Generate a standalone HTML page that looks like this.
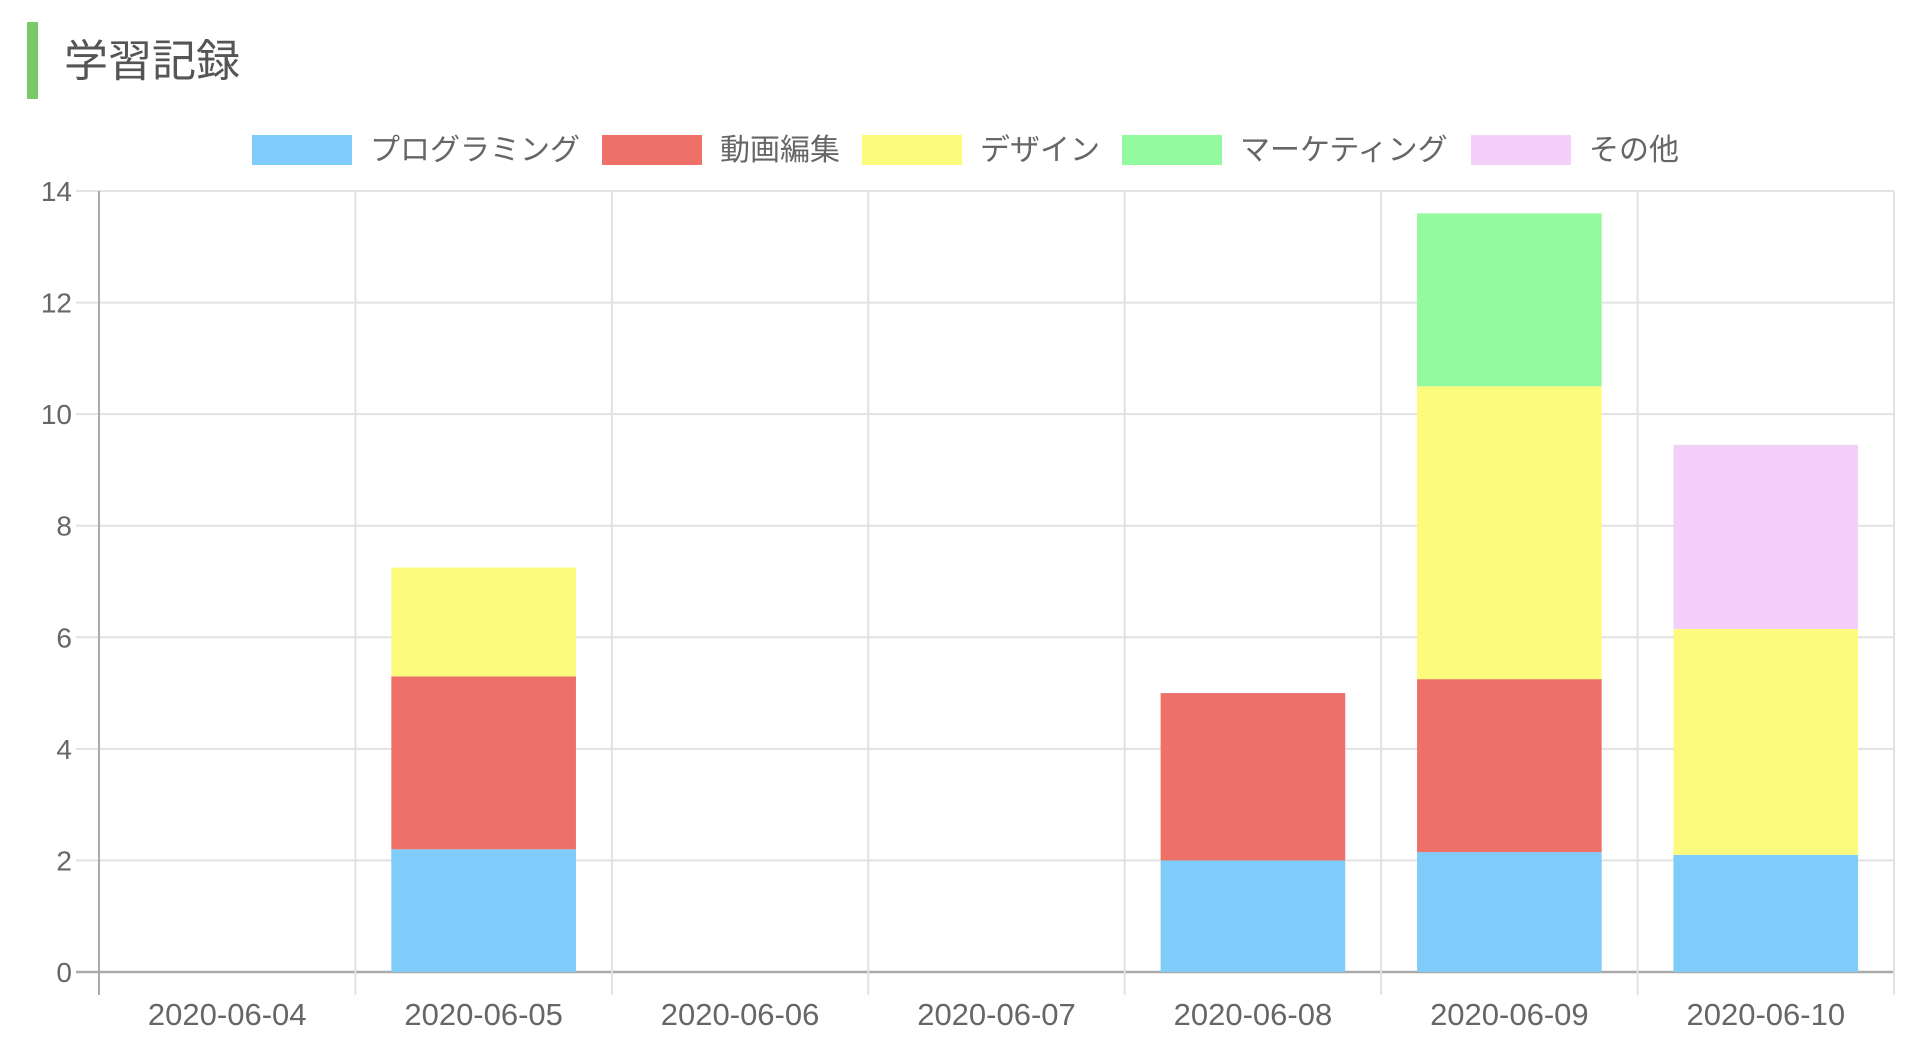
<!DOCTYPE html>
<html><head><meta charset="utf-8"><style>
body{margin:0;background:#fff;width:1926px;height:1058px;overflow:hidden;font-family:"Liberation Sans","Noto Sans CJK JP",sans-serif;}
#title-bar{position:absolute;left:27px;top:22px;width:11px;height:77px;background:#7ac86a;}
#title{position:absolute;left:64px;top:34px;font-size:44px;color:#555;line-height:56px;}
svg{position:absolute;left:0;top:0;}
</style></head><body>
<div id="title-bar"></div>
<div id="title">学習記録</div>
<svg id="chart" width="1926" height="1058"></svg>
<script>
const categories=["2020-06-04","2020-06-05","2020-06-06","2020-06-07","2020-06-08","2020-06-09","2020-06-10"];
const seriesNames=["プログラミング","動画編集","デザイン","マーケティング","その他"];
const programming=[0,2.2,0,0,2,2.15,2.1];
const videoEditing=[0,3.1,0,0,3,3.1,0];
const design=[0,1.95,0,0,0,5.25,4.05];
const marketing=[0,0,0,0,0,3.1,0];
const other=[0,0,0,0,0,0,3.3];
const yTicks=[0,2,4,6,8,10,12,14];
const series=[programming,videoEditing,design,marketing,other];
const colors=["#7fcbf9","#ed7169","#fdfb7d","#93fa9f","#f4cffa"];
const NS="http://www.w3.org/2000/svg";
const svg=document.getElementById('chart');
const L=99,R=1894,T=191,B=972,yMax=14;
const cw=(R-L)/categories.length;
const y=v=>B-(v/yMax)*(B-T);
const xc=i=>L+cw*(i+0.5);
function mk(tag,at){const e=document.createElementNS(NS,tag);for(const k in at)e.setAttribute(k,at[k]);svg.appendChild(e);return e;}
yTicks.forEach(t=>{
  const g=mk('line',{x1:76,x2:R,y1:y(t),y2:y(t),stroke:t===0?'#aaa':'#e2e2e2','stroke-width':t===0?2.5:2});
  
  
  const tx=mk('text',{x:72,y:y(t)+10,'text-anchor':'end','font-size':28,fill:'#666'});
  tx.textContent=t;
  
  
});
for(let i=0;i<=categories.length;i++){
  const x=L+cw*i;
  const g=mk('line',{x1:x,x2:x,y1:T,y2:995,stroke:i===0?'#aaa':'#e2e2e2','stroke-width':2});
  
  
}
categories.forEach((c,i)=>{
  const tx=mk('text',{x:xc(i),y:1025,'text-anchor':'middle','font-size':31,fill:'#666'});
  tx.textContent=c;
  
  
});
const bw=cw*0.72;
categories.forEach((c,i)=>{
  let acc=0;
  series.forEach((s,k)=>{
    const v=s[i]; if(!v) return;
    const r=mk('rect',{x:xc(i)-bw/2,y:y(acc+v),width:bw,height:y(acc)-y(acc+v),fill:colors[k]});
    
    
    acc+=v;
  });
});
const legendX=[252,602,862,1122,1471];
seriesNames.forEach((n,k)=>{
  const r=mk('rect',{x:legendX[k],y:135,width:100,height:30,fill:colors[k]});
  
  
  const t=mk('text',{x:legendX[k]+118,y:160,'font-size':30,fill:'#666'});
  t.textContent=n;
  
  
});
</script>
</body></html>
